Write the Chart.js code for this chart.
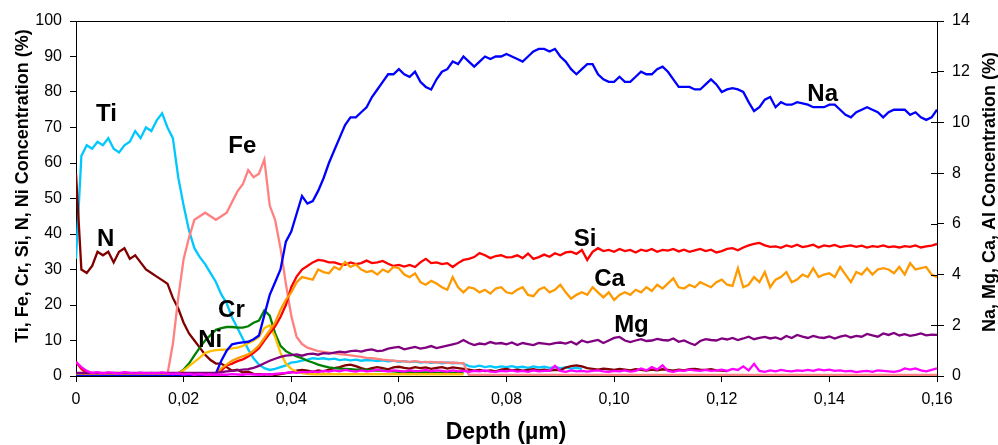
<!DOCTYPE html>
<html>
<head>
<meta charset="utf-8">
<title>Depth profile</title>
<script src="https://cdn.jsdelivr.net/npm/chart.js@4.4.1/dist/chart.umd.min.js"></script>
<style>
  html, body { margin: 0; padding: 0; background: #fff; }
  canvas { display: block; }
</style>
</head>
<body>
<canvas id="profileChart" width="998" height="445"></canvas>
<script>
// Depth samples (um), one every 0.001 from 0 to 0.16
const depth = Array.from({ length: 161 }, (_, i) => +(i * 0.001).toFixed(3));

// Left axis series (%)
const ti = [
  33, 62, 65, 64, 66, 65, 67, 64, 63, 65,
  66, 69, 67, 70, 69, 72, 74, 70, 67, 56,
  48, 41, 36, 33.5, 31.5, 29, 26.5, 23, 20.5, 16.5,
  13.5, 10.5, 7.5, 5, 3.2, 2.2, 1.7, 2, 2.5, 3,
  3.8, 4, 4.3, 4.6, 5, 4.8, 5, 4.7, 4.9, 4.5,
  4.7, 4.4, 4.6, 4.3, 4.5, 4.4, 4.2, 4.4, 4.1, 4.3,
  4.0, 4.2, 3.9, 4.1, 3.8, 4.0, 3.7, 3.9, 3.6, 3.8,
  3.6, 3.7, 3.5, 2.8, 2.6, 2.9, 2.5, 2.8, 2.4, 2.7,
  2.5, 2.8, 2.4, 2.6, 2.3, 2.7, 2.4, 2.6, 2.3, 2.5,
  2.2, 2.4, 2.1, 2.3, 2.0
];
const n = [
  57, 30, 29, 31, 35, 34, 35, 32, 35, 36,
  33, 34, 32, 30, 29, 28, 27, 26, 22, 19,
  15, 12, 10, 8, 6, 4.5, 3.5, 3.5, 2.5, 1.5,
  1.8, 1, 1.2, 0.6, 0.5, 0.4, 0.5, 0.3, 0.5, 0.8,
  1.0, 1.5, 1.7, 1.5, 1.2, 1.6, 1.3, 1.8, 2.2, 2.5,
  3.0, 3.2, 2.8, 2.2, 1.8, 2.2, 2.5, 2.2, 1.9, 2.4,
  2.6, 2.3, 2.1, 2.5, 2.2, 2.4, 2.0, 2.3, 2.5, 2.1,
  2.4, 2.2, 2.0, 1.8, 1.5, 1.7, 1.4, 1.6, 1.3, 1.8,
  2.0, 1.6, 1.8, 1.5, 1.7, 1.9, 1.6, 1.8, 1.5, 1.7,
  1.6, 2.4, 2.8, 3.0, 2.7, 2.2, 2.0, 1.8, 2.1, 1.9,
  1.7, 2.0, 1.8, 1.6, 1.9, 1.7, 1.5, 1.8, 1.6, 1.9,
  1.7, 1.5, 1.8, 1.6, 1.9, 2.0, 1.8, 1.7, 1.9, 1.6,
  1.5, 1.4
];
const fe = [
  0.3, 0.3, 0.3, 0.3, 0.3, 0.3, 0.3, 0.3, 0.3, 0.3,
  0.3, 0.3, 0.3, 0.3, 0.3, 0.3, 0.3, 0.5, 9, 22,
  33, 39, 44, 45, 46, 45, 44, 45, 46, 49,
  52, 54, 58, 56, 57, 61, 48, 44, 36, 26,
  17, 11, 9, 8, 7.5, 7, 6.8, 6.6, 6.4, 6.2,
  6, 5.8, 5.6, 5.4, 5.1, 5, 4.8, 4.6, 4.5, 4.3,
  4.2, 4.1, 4.0, 4.2, 4.0, 3.9, 4.0, 3.8, 3.9, 3.7,
  3.8, 3.6, 3.6, 0.3, 0.3, 0.3, 0.3, 0.3, 0.3, 0.3,
  0.3, 0.3, 0.3, 0.3, 0.3, 0.3, 0.3, 0.3, 0.3, 0.3,
  0.3, 0.3, 0.3, 0.3, 0.3, 0.3, 0.3, 0.3, 0.3, 0.3,
  0.3, 0.3, 0.3, 0.3, 0.3, 0.3, 0.3, 0.3, 0.3, 0.3,
  0.3, 0.3, 0.3, 0.3, 0.3, 0.3, 0.3, 0.3, 0.3, 0.3,
  0.3, 0.3, 0.3, 0.3, 0.3, 0.3, 0.3, 0.3, 0.3, 0.3,
  0.3, 0.3, 0.3, 0.3, 0.3, 0.3, 0.3, 0.3, 0.3, 0.3,
  0.3, 0.3, 0.3, 0.3, 0.3, 0.3, 0.3, 0.3, 0.3, 0.3,
  0.3, 0.3, 0.3, 0.3, 0.3, 0.3, 0.3, 0.3, 0.3, 0.3,
  0.3
];
const cr = [
  0.2, 0.2, 0.2, 0.2, 0.2, 0.2, 0.2, 0.2, 0.2, 0.2,
  0.2, 0.2, 0.2, 0.2, 0.2, 0.2, 0.2, 0.2, 0.3, 0.8,
  1.8, 3.5, 5.8, 8, 10, 11.5, 13, 13.5, 13.8, 13.8,
  13.6, 13.6, 14, 15, 15.6, 18.5, 17, 12, 8.5, 7,
  6.2, 5.5, 5, 4.3, 3.8, 3.2, 2.8, 2.4, 2.2, 2.1,
  2, 1.9, 1.8, 1.8, 1.7, 1.6, 1.5, 1.5, 1.4, 1.3,
  1.2, 1.2, 1.1, 1.1, 1.0, 1.0, 1.0, 0.9, 0.9, 0.9,
  0.9, 0.8, 0.8
];
const ni = [
  0.2, 0.2, 0.2, 0.2, 0.2, 0.2, 0.2, 0.2, 0.2, 0.2,
  0.2, 0.2, 0.2, 0.2, 0.2, 0.2, 0.2, 0.2, 0.3, 0.8,
  1.6, 2.8, 4, 5.2, 6.5, 7, 7.3, 7.4, 7.5, 7.8,
  8, 8.5, 9.2, 10, 11, 13.5, 14.3, 11, 6.5, 3.5,
  2, 1.2, 0.8, 0.6, 0.5, 0.5, 0.5, 0.5, 0.5, 0.5,
  0.5, 0.5, 0.5, 0.5, 0.5, 0.5, 0.5, 0.5, 0.5, 0.5,
  0.5, 0.5, 0.5, 0.5, 0.5, 0.5, 0.5, 0.5, 0.5, 0.5,
  0.5, 0.5, 0.5
];
const si = [
  4, 2, 0.8, 0.3, 0.3, 0.3, 0.3, 0.3, 0.3, 0.3,
  0.3, 0.3, 0.3, 0.3, 0.3, 0.3, 0.3, 0.3, 0.3, 0.3,
  0.3, 0.3, 0.3, 0.3, 0.3, 0.3, 0.5, 1.5, 3, 3.5,
  4.2, 4.7, 5.5, 6.5, 7.8, 10, 12, 14, 16.6, 20,
  25, 28, 30, 31, 32, 32.7, 32.5, 32, 32, 31.5,
  31.3, 32, 31.5, 31.8, 32.5, 31.8, 32, 32.4, 31.6, 31,
  31.3, 30.8, 31.3, 30.7, 32, 33, 31.8, 32, 31.5, 31.8,
  30.7, 31.8, 32.7, 33, 33.5, 34.6, 34, 33.2, 33.8, 34,
  33.4, 33.5, 34, 33.2, 34.5, 33, 33.5, 34.2, 33.6, 34.6,
  34, 34.8, 35, 34.4, 35.5, 32.7, 35, 36, 35.2, 35.5,
  35, 35.8, 35.2, 35.5, 34.8, 35.6, 35.2, 35.8, 35, 35.5,
  35.3, 35.8, 35.1, 35.6, 35, 35.4, 35.8, 35.2, 35.6, 34.8,
  35.2, 35.8, 36, 35.4, 36.2, 36.8, 37.2, 37.5, 36.8, 36.4,
  36.5, 36.1, 36.8, 36.4, 37, 36.3, 36.6, 37, 36.2, 36.8,
  36.5, 36.9, 36.3, 36.6, 36.8, 36.4, 36.7, 36.2, 36.6, 36.4,
  36.8, 36.3, 36.5, 36.2, 36.6, 36.4, 36.8, 36.2, 36.5, 36.7,
  37.2
];

// Right axis series (%)
const na = [
  0, 0, 0, 0, 0, 0, 0, 0, 0, 0,
  0, 0, 0, 0, 0, 0, 0, 0, 0, 0,
  0, 0, 0, 0, 0, 0, 0.1, 0.6, 1.0, 1.25,
  1.3, 1.33, 1.35, 1.45, 1.6, 2.4, 3.2, 3.7, 4.2, 5.3,
  5.7, 6.4, 7.1, 6.8, 6.9, 7.3, 7.8, 8.4, 8.9, 9.4,
  9.9, 10.2, 10.2, 10.4, 10.6, 11.0, 11.3, 11.6, 11.9, 11.9,
  12.1, 11.9, 11.8, 12.0, 11.6, 11.4, 11.3, 11.7, 12.0, 12.1,
  12.4, 12.3, 12.6, 12.4, 12.2, 12.4, 12.6, 12.5, 12.6, 12.6,
  12.7, 12.6, 12.5, 12.4, 12.6, 12.8, 12.9, 12.9, 12.8, 12.9,
  12.6, 12.4, 12.1, 11.9, 12.1, 12.3, 12.3, 11.9, 11.7, 11.6,
  11.6, 11.8, 11.6, 11.6, 11.8, 12.0, 11.9, 11.9, 12.1, 12.2,
  12.0, 11.7, 11.4, 11.4, 11.4, 11.3, 11.3, 11.5, 11.7, 11.5,
  11.2, 11.3, 11.35, 11.3, 11.2, 10.8, 10.45, 10.6, 10.9, 11.0,
  10.6, 10.8, 10.7, 10.7, 10.8, 10.75, 10.7, 10.6, 10.6, 10.6,
  10.7, 10.7, 10.5, 10.3, 10.2, 10.4, 10.5, 10.6, 10.5, 10.4,
  10.2, 10.4, 10.5, 10.5, 10.5, 10.3, 10.4, 10.2, 10.1, 10.2,
  10.5
];
const ca = [
  0.05, 0.05, 0.05, 0.05, 0.05, 0.05, 0.05, 0.05, 0.05, 0.05,
  0.05, 0.05, 0.05, 0.05, 0.05, 0.05, 0.05, 0.05, 0.05, 0.05,
  0.05, 0.05, 0.05, 0.05, 0.05, 0.05, 0.1, 0.3, 0.45, 0.6,
  0.7, 0.78, 0.85, 1.0, 1.2, 1.5, 1.8, 2.1, 2.6, 3.0,
  3.3, 3.7, 3.9, 3.85, 3.8, 4.2, 4.1, 4.05, 4.3, 4.2,
  4.5, 4.3, 4.4, 4.2, 4.1, 4.15, 4.0, 4.2, 4.1, 4.3,
  4.25, 4.0, 3.9, 4.05, 3.7, 3.6, 3.75, 3.65, 3.5, 3.4,
  3.9, 3.5, 3.3, 3.5, 3.45, 3.3, 3.4, 3.25, 3.45, 3.5,
  3.3, 3.25, 3.4, 3.5, 3.2, 3.15, 3.4, 3.5, 3.3, 3.4,
  3.6, 3.3, 3.05, 3.2, 3.3, 3.2, 3.5, 3.3, 3.1, 3.3,
  3.0, 3.2, 3.3, 3.2, 3.4, 3.3, 3.5, 3.35, 3.6, 3.45,
  3.65, 3.85, 3.5, 3.45, 3.6, 3.5, 3.7, 3.6, 3.5, 3.7,
  3.8, 3.6, 3.55, 4.25, 3.5, 3.6, 3.9, 3.7, 4.1, 3.5,
  3.8, 3.9, 4.1, 3.7, 3.8, 4.0, 3.9, 4.25, 3.9, 4.0,
  4.05, 3.9, 4.3, 4.0, 3.7, 4.1, 4.0, 4.25, 4.0, 4.2,
  4.25, 4.2, 4.05, 4.3, 4.0, 4.45, 4.2, 4.25, 4.3, 4.0,
  3.9
];
const mg = [
  0.12, 0.12, 0.12, 0.12, 0.12, 0.12, 0.12, 0.12, 0.12, 0.12,
  0.12, 0.12, 0.12, 0.12, 0.12, 0.12, 0.12, 0.12, 0.12, 0.12,
  0.12, 0.12, 0.12, 0.12, 0.12, 0.12, 0.12, 0.15, 0.18, 0.2,
  0.22, 0.25, 0.27, 0.32, 0.4, 0.5, 0.6, 0.68, 0.75, 0.8,
  0.82, 0.85, 0.8, 0.86, 0.88, 0.84, 0.9, 0.88, 0.92, 0.96,
  0.93, 0.98, 1.0, 0.96, 1.02, 1.05, 0.98, 1.0, 1.08, 1.12,
  1.15, 1.05, 1.1, 1.15, 1.08, 1.12, 1.18, 1.1, 1.15, 1.2,
  1.25, 1.3, 1.42, 1.3, 1.22, 1.28, 1.25, 1.34, 1.28, 1.3,
  1.25, 1.32, 1.22, 1.3, 1.26, 1.22, 1.3, 1.28, 1.25, 1.3,
  1.32, 1.28, 1.35, 1.25, 1.4, 1.33, 1.38, 1.42, 1.3, 1.4,
  1.5, 1.54, 1.4, 1.34, 1.4, 1.45, 1.38, 1.4, 1.46, 1.42,
  1.4, 1.48, 1.35, 1.4, 1.3, 1.22, 1.38, 1.45, 1.42, 1.4,
  1.48, 1.44, 1.5, 1.42, 1.48, 1.55, 1.45, 1.5, 1.54, 1.48,
  1.52, 1.45, 1.58, 1.5, 1.62, 1.55, 1.5, 1.58, 1.52, 1.5,
  1.56, 1.48, 1.55, 1.6, 1.52, 1.58, 1.55, 1.66, 1.6, 1.55,
  1.68, 1.62, 1.7, 1.6, 1.65, 1.58, 1.62, 1.68, 1.6, 1.63,
  1.62
];
const al = [
  0.55, 0.35, 0.2, 0.12, 0.15, 0.1, 0.14, 0.12, 0.1, 0.15,
  0.12, 0.1, 0.13, 0.1, 0.12, 0.1, 0.14, 0.1, 0.08, 0.1,
  0.06, 0.08, 0.05, 0.07, 0.05, 0.06, 0.05, 0.06, 0.05, 0.07,
  0.06, 0.05, 0.07, 0.06, 0.05, 0.07, 0.06, 0.08, 0.1, 0.12,
  0.15, 0.12, 0.16, 0.14, 0.18, 0.15, 0.2, 0.17, 0.22, 0.18,
  0.24, 0.2, 0.17, 0.22, 0.18, 0.2, 0.25, 0.2, 0.18, 0.22,
  0.2, 0.17, 0.22, 0.19, 0.2, 0.24, 0.18, 0.22, 0.2, 0.17,
  0.22, 0.18, 0.2, 0.16, 0.2, 0.18, 0.22, 0.17, 0.16, 0.2,
  0.18, 0.22, 0.17, 0.2, 0.16, 0.22, 0.18, 0.2, 0.2, 0.4,
  0.2, 0.16, 0.22, 0.18, 0.2, 0.17, 0.2, 0.22, 0.18, 0.16,
  0.2, 0.18, 0.22, 0.17, 0.2, 0.3, 0.22, 0.35, 0.25, 0.42,
  0.2, 0.16, 0.22, 0.2, 0.25, 0.22, 0.2, 0.24, 0.2, 0.22,
  0.25, 0.2, 0.28, 0.24, 0.38, 0.22, 0.48, 0.2, 0.16, 0.22,
  0.18, 0.24, 0.2, 0.18, 0.22, 0.2, 0.24, 0.2, 0.26, 0.22,
  0.25, 0.2, 0.22, 0.18, 0.2, 0.15, 0.18, 0.2, 0.16, 0.22,
  0.2, 0.18, 0.16, 0.2, 0.3, 0.25, 0.3, 0.22, 0.18, 0.24,
  0.3
];

// Tick labels use a comma as decimal separator
function depthLabel(v) {
  return v === 0 ? '0' : v.toFixed(2).replace('.', ',');
}

function toPoints(values) {
  return values.map((v, i) => ({ x: depth[i], y: v }));
}

function series(label, values, color, axis) {
  return {
    label: label,
    data: toPoints(values),
    borderColor: color,
    backgroundColor: color,
    yAxisID: axis
  };
}

// Element names written next to their curves (text baseline, left-axis units)
const curveLabels = [
  { text: 'Ti', x: 0.0037, y: 71.8 },
  { text: 'Fe', x: 0.0283, y: 62.8 },
  { text: 'N', x: 0.0039, y: 36.6 },
  { text: 'Cr', x: 0.0264, y: 16.6 },
  { text: 'Ni', x: 0.0227, y: 8.2 },
  { text: 'Na', x: 0.1359, y: 77.5 },
  { text: 'Si', x: 0.0925, y: 36.6 },
  { text: 'Ca', x: 0.0963, y: 25.4 },
  { text: 'Mg', x: 0.1000, y: 12.4 }
];

const FONT = '"Liberation Sans", Arial, sans-serif';

// Frame top line, inner half of right ticks, curve labels and axis titles
const overlayPlugin = {
  id: 'overlay',
  afterDraw(chart) {
    const ctx = chart.ctx;
    const area = chart.chartArea;
    const xs = chart.scales.x;
    const ys = chart.scales.y;
    const yr = chart.scales.y1;

    ctx.save();
    ctx.strokeStyle = '#000';
    ctx.lineWidth = 1;
    ctx.beginPath();
    ctx.moveTo(area.left, Math.round(area.top) + 0.5);
    ctx.lineTo(area.right, Math.round(area.top) + 0.5);
    yr.ticks.forEach(t => {
      const py = Math.round(yr.getPixelForValue(t.value)) + 0.5;
      ctx.moveTo(area.right - 6, py);
      ctx.lineTo(area.right, py);
    });
    ctx.stroke();

    ctx.fillStyle = '#000';
    ctx.font = 'bold 24px ' + FONT;
    ctx.textAlign = 'left';
    ctx.textBaseline = 'alphabetic';
    curveLabels.forEach(l => {
      ctx.fillText(l.text, xs.getPixelForValue(l.x), ys.getPixelForValue(l.y));
    });

    // x axis title
    ctx.font = 'bold 23px ' + FONT;
    ctx.textAlign = 'center';
    ctx.fillText('Depth (\u00b5m)', 506, 439);

    // y axis titles
    ctx.font = 'bold 18px ' + FONT;
    ctx.save();
    ctx.translate(28, 186);
    ctx.rotate(-Math.PI / 2);
    ctx.fillText('Ti, Fe, Cr, Si, N, Ni Concentration (%)', 0, 0);
    ctx.restore();
    ctx.save();
    ctx.translate(995, 192);
    ctx.rotate(-Math.PI / 2);
    ctx.fillText('Na, Mg, Ca, Al Concentration (%)', 0, 0);
    ctx.restore();

    ctx.restore();
  }
};

Chart.defaults.font.family = FONT;
Chart.defaults.color = '#000';

new Chart(document.getElementById('profileChart'), {
  type: 'line',
  data: {
    datasets: [
      series('Al', al, '#FF00FF', 'y1'),
      series('Mg', mg, '#800080', 'y1'),
      series('Na', na, '#0000FF', 'y1'),
      series('Ca', ca, '#FF9900', 'y1'),
      series('Si', si, '#FF0000', 'y'),
      series('Ni', ni, '#FFC000', 'y'),
      series('Cr', cr, '#008000', 'y'),
      series('Fe', fe, '#FF8080', 'y'),
      series('N', n, '#800000', 'y'),
      series('Ti', ti, '#00C8FF', 'y')
    ]
  },
  options: {
    responsive: false,
    animation: false,
    layout: { padding: { top: 21, left: 0, right: 0, bottom: 0 } },
    plugins: {
      legend: { display: false },
      tooltip: { enabled: false }
    },
    elements: {
      point: { radius: 0 },
      line: { borderWidth: 2.3, tension: 0 }
    },
    scales: {
      x: {
        type: 'linear',
        min: 0,
        max: 0.16,
        ticks: {
          stepSize: 0.02,
          padding: 8,
          maxRotation: 0,
          font: { size: 16 },
          callback: v => depthLabel(v)
        },
        grid: { drawOnChartArea: false, tickLength: 6, color: '#000' },
        border: { color: '#000', width: 1 },
        afterFit: s => { s.height = 69; }
      },
      y: {
        position: 'left',
        min: 0,
        max: 100,
        ticks: { stepSize: 10, padding: 8, font: { size: 16 } },
        grid: { drawOnChartArea: false, tickLength: 6, color: '#000' },
        border: { color: '#000', width: 1 },
        afterFit: s => { s.width = 76; }
      },
      y1: {
        position: 'right',
        min: 0,
        max: 14,
        ticks: { stepSize: 2, padding: 8, font: { size: 16 } },
        grid: { drawOnChartArea: false, tickLength: 7, color: '#000' },
        border: { color: '#000', width: 1 },
        afterFit: s => { s.width = 61; }
      }
    }
  },
  plugins: [overlayPlugin]
});
</script>
</body>
</html>
